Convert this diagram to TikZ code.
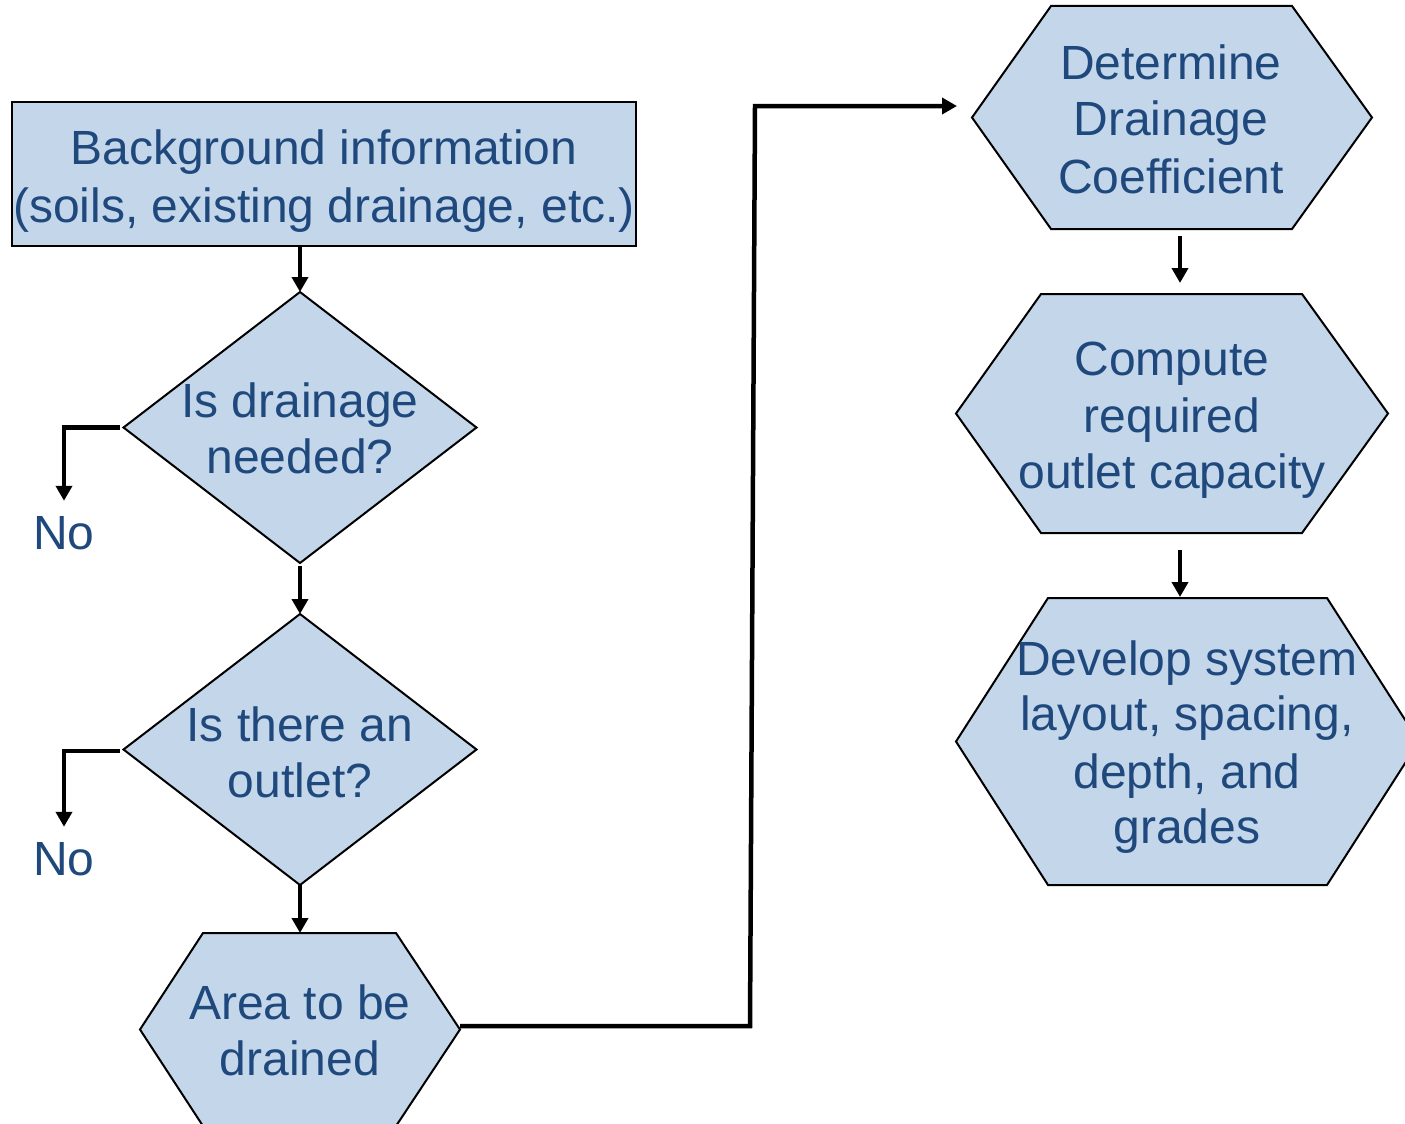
\documentclass[tikz,border=0pt]{standalone}
\usepackage{fontspec}
\setmainfont{Liberation Sans}
\usetikzlibrary{shapes.geometric,arrows.meta,calc}
\definecolor{boxfill}{RGB}{196,214,234}
\definecolor{txtblue}{RGB}{31,73,125}
\tikzset{
  shp/.style={draw=black, line width=2pt, fill=boxfill, line join=miter},
  bbox/.style={rectangle, inner sep=0pt, outer sep=0pt},
  dia/.style={diamond, shp, inner sep=0pt, outer sep=0pt, minimum width=353pt, minimum height=271pt},
  txt/.style={font=\fontsize{48}{57.6}\selectfont, text=txtblue, inner sep=0pt, anchor=base},
  conn/.style={draw=black, line width=4.5pt, -{Triangle[length=15pt,width=16pt]}}
}
\begin{document}
\begin{tikzpicture}[x=1pt,y=-1pt]
\useasboundingbox (0,0) rectangle (1405,1124);

% background rectangle
\node[bbox, shp, minimum width=624pt, minimum height=144pt] (bg) at (324,174) {};
\node[txt] (bg1) at (324,164) {Background information};
\node[txt] (bg2) at (324,222) {(soils, existing drainage, etc.)};

% diamonds
\node[dia] (dn1) at (300,427.5) {};
\node[txt] (dn1a) at (300,417) {Is drainage};
\node[txt] (dn1b) at (300,473) {needed?};

\node[dia] (dn2) at (300,749.5) {};
\node[txt] (dn2a) at (300,741) {Is there an};
\node[txt] (dn2b) at (300,797) {outlet?};

% No labels
\node[txt] (no1) at (64,549) {No};
\node[txt] (no2) at (64,875) {No};

% hexagon: Area to be drained
\node[bbox, minimum width=320pt, minimum height=193pt] (area) at (300,1029.5) {};
\draw[shp] ([xshift=63pt]area.north west) -- ([xshift=-64pt]area.north east) -- (area.east)
  -- ([xshift=-64pt]area.south east) -- ([xshift=63pt]area.south west) -- (area.west) -- cycle;
\node[txt] (area1) at (300,1019) {Area to be};
\node[txt] (area2) at (300,1075) {drained};

% hexagon: Determine Drainage Coefficient
\node[bbox, minimum width=400pt, minimum height=223pt] (det) at (1172,117.5) {};
\draw[shp] ([xshift=79pt]det.north west) -- ([xshift=-80pt]det.north east) -- (det.east)
  -- ([xshift=-80pt]det.south east) -- ([xshift=79pt]det.south west) -- (det.west) -- cycle;
\node[txt] (det1) at (1171,80) {Determine};
\node[txt] (det2) at (1171,135) {Drainage};
\node[txt] (det3) at (1171,193) {Coefficient};

% hexagon: Compute required outlet capacity
\node[bbox, minimum width=432pt, minimum height=239pt] (comp) at (1172,413.5) {};
\draw[shp] ([xshift=85pt]comp.north west) -- ([xshift=-86pt]comp.north east) -- (comp.east)
  -- ([xshift=-86pt]comp.south east) -- ([xshift=85pt]comp.south west) -- (comp.west) -- cycle;
\node[txt] (comp1) at (1172,375) {Compute};
\node[txt] (comp2) at (1172,432) {required};
\node[txt] (comp3) at (1172,488) {outlet capacity};

% hexagon: Develop system layout
\node[bbox, minimum width=463pt, minimum height=287pt] (dev) at (1187.5,741.5) {};
\draw[shp] ([xshift=92pt]dev.north west) -- ([xshift=-92pt]dev.north east) -- (dev.east)
  -- ([xshift=-92pt]dev.south east) -- ([xshift=92pt]dev.south west) -- (dev.west) -- cycle;
\node[txt] (dev1) at (1187,675) {Develop system};
\node[txt] (dev2) at (1187,730) {layout, spacing,};
\node[txt] (dev3) at (1187,788) {depth, and};
\node[txt] (dev4) at (1187,843) {grades};

% connectors
\draw[conn] (bg.south -| dn1.north) -- (dn1.north);
\draw[conn] ([yshift=-3pt]dn1.south) -- (dn2.north);
\draw[conn] (dn2.south) -- (area.north);
\draw[conn] ([xshift=-4pt]dn1.west) -| ([yshift=15pt]no1.north);
\draw[conn] ([xshift=-4pt,yshift=-1.5pt]dn2.west) -| ([yshift=15pt]no2.north);

\coordinate (k1) at (750,1026);
\coordinate (k2) at (755,106);
\coordinate (k3) at (957,106);
\draw[conn, line join=miter] (area.east |- k1) -- (k1) -- (k2) -- (k3);

\draw[conn] ($(det.south)+(8,7)$) -- ($(comp.north)+(8,-11)$);
\draw[conn] ($(comp.south)+(8,17)$) -- ($(dev.north)+(-7.5,-1)$);
\end{tikzpicture}
\end{document}
